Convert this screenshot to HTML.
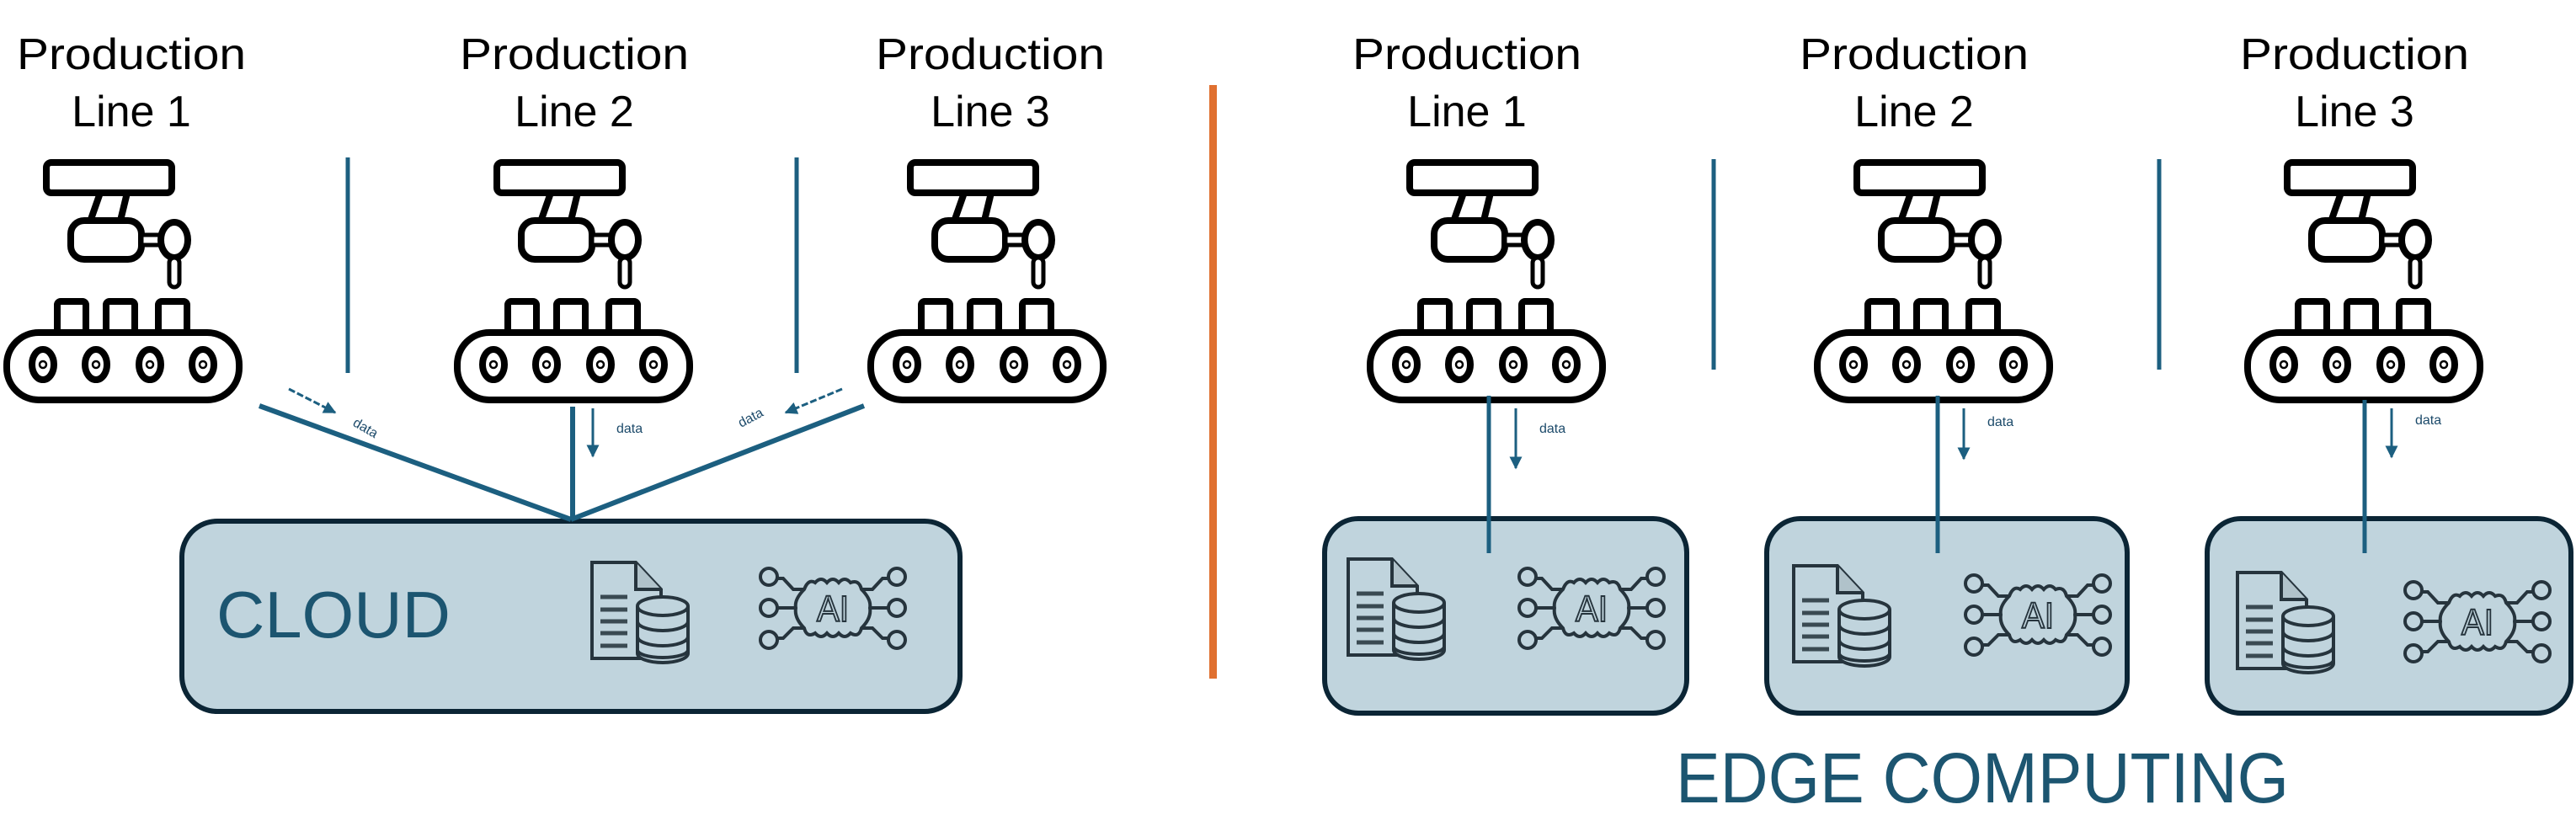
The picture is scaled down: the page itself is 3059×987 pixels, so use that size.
<!DOCTYPE html>
<html><head><meta charset="utf-8"><style>
html,body{margin:0;padding:0;background:#fff;}
svg{display:block;}
</style></head><body>
<svg width="3059" height="987" viewBox="0 0 3059 987" xmlns="http://www.w3.org/2000/svg">
<defs>
<g id="robot" fill="#fff" stroke="#000" stroke-width="8" stroke-linejoin="round">
  <rect x="49" y="193" width="149" height="36" rx="6"/>
  <line x1="113" y1="229" x2="100" y2="266"/>
  <line x1="145" y1="229" x2="136" y2="266"/>
  <rect x="78" y="262" width="84" height="46" rx="16"/>
  <rect x="162" y="279" width="22" height="12" stroke-width="5"/>
  <ellipse cx="201" cy="285" rx="16" ry="21"/>
  <rect x="195" y="306" width="12" height="35" rx="6" stroke-width="5"/>
  <rect x="62" y="358" width="34" height="38" rx="4"/>
  <rect x="120" y="358" width="34" height="38" rx="4"/>
  <rect x="182" y="358" width="34" height="38" rx="4"/>
  <rect x="2" y="395" width="276" height="80" rx="38"/>
  <g stroke-width="8">
  <ellipse cx="45" cy="433" rx="13" ry="18"/>
  <ellipse cx="108" cy="433" rx="13" ry="18"/>
  <ellipse cx="172" cy="433" rx="13" ry="18"/>
  <ellipse cx="235" cy="433" rx="13" ry="18"/>
  </g>
  <g stroke-width="2.5"><circle cx="45" cy="433" r="4"/><circle cx="108" cy="433" r="4"/><circle cx="172" cy="433" r="4"/><circle cx="235" cy="433" r="4"/></g>
</g>
<g id="db" fill="none" stroke="#26343d" stroke-width="4">
  <path d="M0,0 H52 L82,32 V114 H0 Z" fill="#c0d4dd"/>
  <path d="M52,0 V32 H82" fill="#b0c2ca"/>
  <g stroke-width="5" stroke="#3a4a52"><line x1="10" y1="41" x2="42" y2="41"/><line x1="10" y1="56" x2="42" y2="56"/><line x1="10" y1="70" x2="42" y2="70"/><line x1="10" y1="84" x2="42" y2="84"/><line x1="10" y1="99" x2="42" y2="99"/></g>
  <path d="M54,52 V108 A30,11 0 0 0 114,108 V52" fill="#c0d4dd"/>
  <ellipse cx="84" cy="52" rx="30" ry="11" fill="#c0d4dd"/>
  <path d="M54,70 A30,11 0 0 0 114,70 M54,88 A30,11 0 0 0 114,88 M54,104 A30,9 0 0 0 114,104"/>
</g>
<g id="ai" fill="none" stroke="#26343d" stroke-width="4">
  <circle cx="13" cy="13" r="10"/><circle cx="13" cy="50" r="10"/><circle cx="13" cy="88" r="10"/>
  <circle cx="165" cy="13" r="10"/><circle cx="165" cy="50" r="10"/><circle cx="165" cy="88" r="10"/>
  <path d="M23,50 H45 M133,50 H155"/>
  <path d="M23,15 H30 L42,28 H55 M155,15 H148 L136,28 H123 M23,86 H30 L42,74 H55 M155,86 H148 L136,74 H123"/>
  <path d="M55,28 Q60,15 68,20 Q75,12 82,20 Q89,12 96,20 Q103,12 110,20 Q120,16 123,28 Q135,40 133,50 Q135,62 123,74 Q120,86 110,80 Q103,88 96,80 Q89,88 82,80 Q75,88 68,80 Q58,86 55,74 Q43,62 45,50 Q43,40 55,28 Z"/>
  <text x="89" y="66" font-family="Liberation Sans, sans-serif" font-size="44" fill="none" stroke="#26343d" stroke-width="2" text-anchor="middle" textLength="38" lengthAdjust="spacingAndGlyphs">AI</text>
</g>
<marker id="ah" viewBox="0 0 10 10" refX="9" refY="5" markerWidth="5" markerHeight="5" orient="auto"><path d="M0,0 L10,5 L0,10 Z" fill="#1c5f80"/></marker>
</defs>

<g font-family="Liberation Sans, sans-serif" font-size="52" fill="#000" text-anchor="middle">
  <text x="156" y="82" textLength="272" lengthAdjust="spacingAndGlyphs">Production</text><text x="156" y="150">Line 1</text>
  <text x="682" y="82" textLength="272" lengthAdjust="spacingAndGlyphs">Production</text><text x="682" y="150">Line 2</text>
  <text x="1176" y="82" textLength="272" lengthAdjust="spacingAndGlyphs">Production</text><text x="1176" y="150">Line 3</text>
  <text x="1742" y="82" textLength="272" lengthAdjust="spacingAndGlyphs">Production</text><text x="1742" y="150">Line 1</text>
  <text x="2273" y="82" textLength="272" lengthAdjust="spacingAndGlyphs">Production</text><text x="2273" y="150">Line 2</text>
  <text x="2796" y="82" textLength="272" lengthAdjust="spacingAndGlyphs">Production</text><text x="2796" y="150">Line 3</text>
</g>

<use href="#robot" transform="translate(6,0)"/>
<use href="#robot" transform="translate(541,0)"/>
<use href="#robot" transform="translate(1032,0)"/>
<use href="#robot" transform="translate(1625,0)"/>
<use href="#robot" transform="translate(2156,0)"/>
<use href="#robot" transform="translate(2667,0)"/>

<g stroke="#1c5f80" stroke-width="5">
  <line x1="413" y1="187" x2="413" y2="443"/>
  <line x1="946" y1="187" x2="946" y2="443"/>
  <line x1="2035" y1="189" x2="2035" y2="439"/>
  <line x1="2564" y1="189" x2="2564" y2="439"/>
</g>

<rect x="1436" y="101" width="9" height="705" fill="#e07030"/>

<rect x="216" y="619" width="924" height="226" rx="42" fill="#c0d4dd" stroke="#0b2535" stroke-width="6"/>
<g stroke="#1c5f80" stroke-width="6" fill="none">
  <line x1="308" y1="482" x2="678" y2="617"/>
  <line x1="1026" y1="482" x2="678" y2="617"/>
  <line x1="680" y1="483" x2="680" y2="617"/>
</g>
<g stroke="#1c5f80" stroke-width="3" fill="none" marker-end="url(#ah)">
  <line x1="343" y1="462" x2="398" y2="490" stroke-dasharray="8 3"/>
  <line x1="704" y1="485" x2="704" y2="542"/>
  <line x1="1000" y1="462" x2="933" y2="490" stroke-dasharray="8 3"/>
  <line x1="1800" y1="485" x2="1800" y2="556"/>
  <line x1="2332" y1="485" x2="2332" y2="545"/>
  <line x1="2840" y1="485" x2="2840" y2="543"/>
</g>
<g font-family="Liberation Sans, sans-serif" font-size="16" fill="#1c4a6a">
  <text x="418" y="505" transform="rotate(30 418 505)">data</text>
  <text x="732" y="514">data</text>
  <text x="880" y="508" transform="rotate(-28 880 508)">data</text>
  <text x="1828" y="514">data</text>
  <text x="2360" y="506">data</text>
  <text x="2868" y="504">data</text>
</g>
<text x="257" y="757" font-family="Liberation Sans, sans-serif" font-size="78" fill="#1c5570" textLength="278" lengthAdjust="spacingAndGlyphs">CLOUD</text>
<use href="#db" transform="translate(703,668)"/>
<use href="#ai" transform="translate(900,672)"/>

<g fill="#c0d4dd" stroke="#0b2535" stroke-width="6">
  <rect x="1573" y="616" width="430" height="231" rx="40"/>
  <rect x="2098" y="616" width="428" height="231" rx="40"/>
  <rect x="2621" y="616" width="432" height="231" rx="40"/>
</g>
<g stroke="#1c5f80" stroke-width="5">
  <line x1="1768" y1="470" x2="1768" y2="657"/>
  <line x1="2301" y1="470" x2="2301" y2="657"/>
  <line x1="2808" y1="475" x2="2808" y2="657"/>
</g>
<use href="#db" transform="translate(1601,664)"/>
<use href="#ai" transform="translate(1801,672)"/>
<use href="#db" transform="translate(2130,672)"/>
<use href="#ai" transform="translate(2331,680)"/>
<use href="#db" transform="translate(2657,680)"/>
<use href="#ai" transform="translate(2853,688)"/>
<text x="1990" y="953" font-family="Liberation Sans, sans-serif" font-size="84" fill="#1c5570" textLength="728" lengthAdjust="spacingAndGlyphs">EDGE COMPUTING</text>
</svg>
</body></html>
